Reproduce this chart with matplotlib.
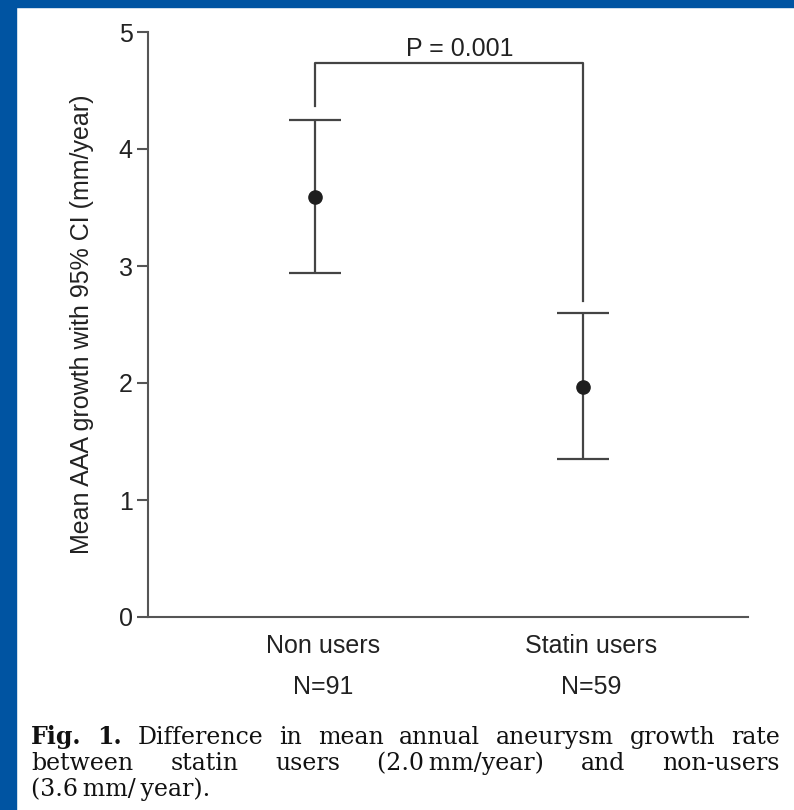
import numpy as np
import matplotlib.pyplot as plt
from matplotlib.patches import Rectangle
from matplotlib.transforms import offset_copy

# data
groups = ['Non users', 'Statin users']
group_n = ['N=91', 'N=59']
means = [3.59, 1.97]
ci_low = [2.94, 1.35]
ci_high = [4.25, 2.60]
bracket_left_y = 4.37
bracket_top_y = 4.735
bracket_right_y = 2.70
p_text = 'P = 0.001'
caption_lines = [
    [('Fig.', True), ('1.', True), ('Difference', False), ('in', False), ('mean', False),
     ('annual', False), ('aneurysm', False), ('growth', False), ('rate', False)],
    [('between', False), ('statin', False), ('users', False), ('(2.0\u2009mm/year)', False),
     ('and', False), ('non-users', False)],
    [('(3.6\u2009mm/\u2009year).', False)],
]

W, H = 794, 810
fig = plt.figure(figsize=(W / 100, H / 100), dpi=100)
plt.rcParams['font.family'] = ['Liberation Sans', 'DejaVu Sans']

# blue frame
blue = '#0054A2'
fig.patches.append(Rectangle((0, 0), 16 / W, 1, transform=fig.transFigure, color=blue, zorder=0))
fig.patches.append(Rectangle((0, 1 - 7 / H), 1, 7 / H, transform=fig.transFigure, color=blue, zorder=0))

ax = fig.add_axes([148 / W, 1 - 617 / H, 600 / W, 585 / H])
x = np.array([1, 2])
m = np.array(means)
err = np.array([m - np.array(ci_low), np.array(ci_high) - m])
gray = '#444444'
ax.errorbar(x, m, yerr=err, fmt='o', color='#1e1e1e', ms=9.5, ecolor=gray,
            elinewidth=1.6, capsize=19, capthick=1.6, zorder=3)

# significance bracket
ax.plot([x[0], x[0], x[1], x[1]],
        [bracket_left_y, bracket_top_y, bracket_top_y, bracket_right_y],
        color=gray, lw=1.6)
ax.text(x.mean() + 0.04, bracket_top_y + 0.02, p_text, ha='center', va='bottom',
        fontsize=18, color='#222222')

ax.set_xlim(0.377, 2.616)
ax.set_ylim(0, 5)
ax.set_yticks(range(6))
ax.set_xticks([])
ax.spines['top'].set_visible(False)
ax.spines['right'].set_visible(False)
for s in ['left', 'bottom']:
    ax.spines[s].set_color('#555555')
    ax.spines[s].set_linewidth(1.5)
ax.tick_params(axis='y', length=8, width=1.5, color='#555555', pad=3,
               labelsize=18, labelcolor='#222222')
ax.set_ylabel('Mean AAA growth with 95% CI (mm/year)', fontsize=18,
              color='#222222', labelpad=18)

for xi, g, n in zip(x, groups, group_n):
    tr = offset_copy(ax.get_xaxis_transform(), fig=fig, x=6, y=-21, units='points')
    ax.text(xi, 0, g, transform=tr, ha='center', va='center', fontsize=18, color='#222222')
    tr2 = offset_copy(ax.get_xaxis_transform(), fig=fig, x=6, y=-50.5, units='points')
    ax.text(xi, 0, n, transform=tr2, ha='center', va='center', fontsize=18, color='#222222')

# justified caption in a serif face
renderer = fig.canvas.get_renderer()
left_px, right_px = 31, 780
baselines = [744, 770, 796]
for li, (words, base) in enumerate(zip(caption_lines, baselines)):
    items = []
    for w, bold in words:
        t = fig.text(0, 1 - base / H, w, fontsize=17, family='DejaVu Serif',
                     weight='bold' if bold else 'normal', va='baseline', color='#111111')
        items.append(t)
    widths = [t.get_window_extent(renderer).width for t in items]
    last = li == len(caption_lines) - 1
    if len(items) > 1 and not last:
        gap = (right_px - left_px - sum(widths)) / (len(items) - 1)
    else:
        gap = 7
    xpos = left_px
    for t, wd in zip(items, widths):
        t.set_x(xpos / W)
        xpos += wd + gap

fig.savefig('out.png', dpi=100, facecolor='white')
